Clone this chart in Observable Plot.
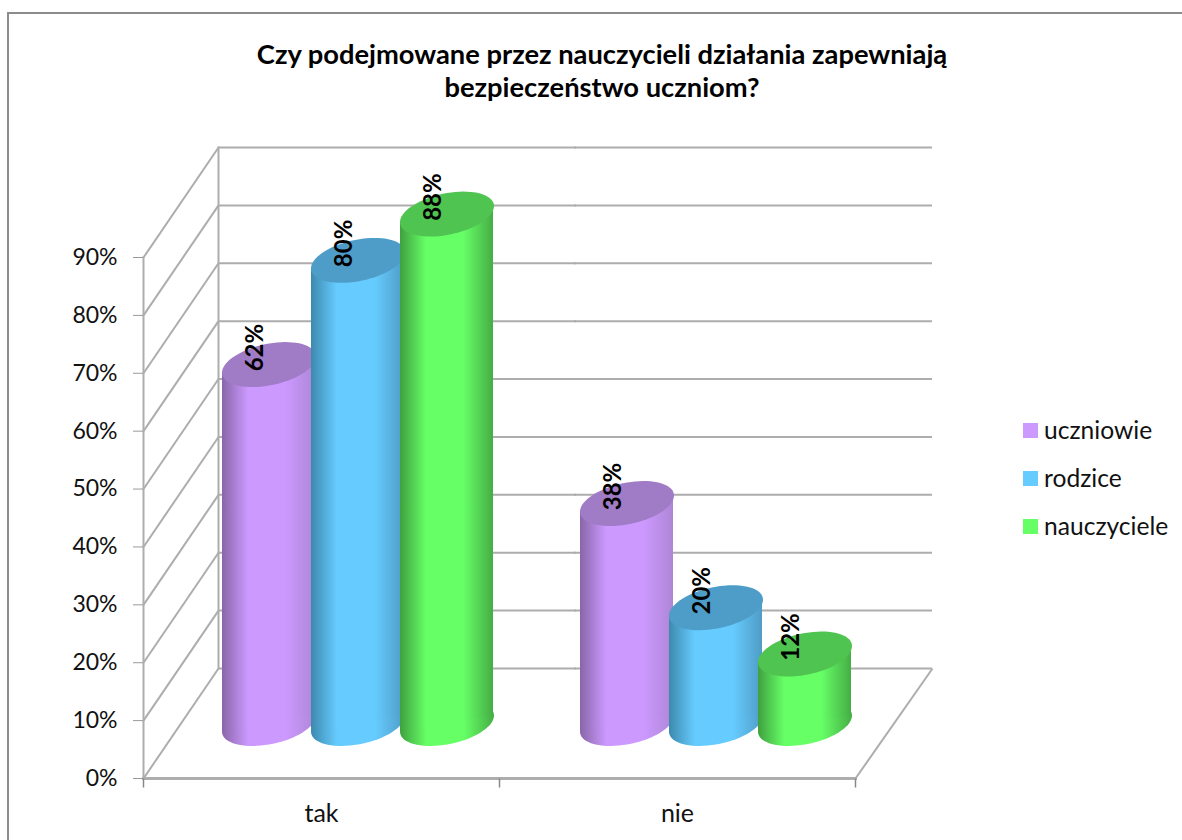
<!DOCTYPE html>
<html lang="pl">
<head>
<meta charset="utf-8">
<script src="https://cdn.jsdelivr.net/npm/d3@7"></script>
<script src="https://cdn.jsdelivr.net/npm/@observablehq/plot@0.6"></script>
<style>
  html, body { margin: 0; padding: 0; background: #fff; }
  #page { position: relative; width: 1182px; height: 840px; overflow: hidden; font-family: Lato, sans-serif; color: #111; }
  #border { position: absolute; left: 7px; top: 12px; right: -5px; bottom: -5px; border: 2px solid #8c8c8c; }
  #title { position: absolute; left: 202px; width: 800px; top: 37px; text-align: center; font-weight: 700; font-size: 27.3px; line-height: 33px; color: #000; }
  #chart { position: absolute; left: 0; top: 0; }
  #legend { position: absolute; left: 1023px; top: 416px; font-size: 24.6px; }
  #legend div { height: 48px; display: flex; align-items: flex-start; line-height: 27px; }
  #legend i { display: block; width: 15px; height: 15px; margin: 7px 6px 0 0; }
</style>
</head>
<body>
<div id="page">
  <div id="border"></div>
  <div id="chart"></div>
  <div id="title">Czy podejmowane przez nauczycieli działania zapewniają<br>bezpieczeństwo uczniom?</div>
  <div id="legend"></div>
</div>
<script>
const categories = ["tak", "nie"];
const seriesNames = ["uczniowie", "rodzice", "nauczyciele"];
const ucniowie = [62, 38];
const rodzice = [80, 20];
const nauczyciele = [88, 12];
const yTicks = [0, 10, 20, 30, 40, 50, 60, 70, 80, 90];

const seriesValues = [ucniowie, rodzice, nauczyciele];
const baseColors = ["#CC99FF", "#66CCFF", "#66FF66"];
const topColors = ["#A07BC6", "#4E9DC8", "#50C450"];
const edgeLeft = ["#8866A8", "#3D89AE", "#3FA03F"];
const edgeRight = ["#AE86D6", "#4F9CC6", "#45AD45"];

const rows = seriesNames.flatMap((s, i) =>
  categories.map((c, j) => ({category: c, series: s, value: seriesValues[i][j], idx: i}))
);

// 3-D projection of the chart box
const depthX = 75, depthY = -110;
const midX = [36, 38], midY = -55;
const halfW = 47, shear = 8, halfH = 21;
const gridColor = "#adadad";

const ellipse = {
  draw(c) {
    const n = 72;
    for (let k = 0; k <= n; ++k) {
      const t = (k / n) * 2 * Math.PI;
      const px = halfW * Math.cos(t), py = -shear * Math.cos(t) + halfH * Math.sin(t);
      k ? c.lineTo(px, py) : c.moveTo(px, py);
    }
    c.closePath();
  }
};
const diagonal = {draw(c) { c.moveTo(0, 0); c.lineTo(depthX, depthY); }};
const floorEdge = {draw(c) { c.moveTo(0, 0); c.lineTo(depthX + 2, depthY); }};
const xTick = {draw(c) { c.moveTo(0, 0); c.lineTo(0, 9); }};

// Shear each cylinder body so that its ends meet the tilted ellipses
function shearBody(index, scales, values, dimensions, context, next) {
  const g = next(index, scales, values, dimensions, context);
  const k = -shear / halfW;
  d3.select(g).selectAll("rect").each(function () {
    const cx = +this.getAttribute("x") + +this.getAttribute("width") / 2;
    this.setAttribute("transform", `matrix(1,${k},0,1,0,${-k * cx})`);
  });
  return g;
}

function defs() {
  const d = d3.create("svg:defs");
  baseColors.forEach((col, i) => {
    const g = d.append("linearGradient").attr("id", `cyl-${i}`).attr("x1", 0).attr("x2", 1).attr("y1", 0).attr("y2", 0);
    [[0, edgeLeft[i]], [0.28, col], [0.68, col], [1, edgeRight[i]]]
      .forEach(([o, c]) => g.append("stop").attr("offset", o).attr("stop-color", c));
  });
  return d.node();
}

const cylinderMarks = seriesNames.flatMap((s, i) =>
  categories.flatMap((cat, j) => {
    const data = rows.filter((r) => r.idx === i && r.category === cat);
    const common = {fx: "category", x: "series", dx: midX[j], dy: midY};
    return [
      Plot.dot(data, {...common, y: () => 0, symbol: ellipse, fill: `url(#cyl-${i})`, stroke: "none"}),
      Plot.barY(data, {...common, y: "value", fill: `url(#cyl-${i})`, insetLeft: -2, insetRight: -2, render: shearBody}),
      Plot.dot(data, {...common, y: "value", symbol: ellipse, fill: topColors[i], stroke: "none"})
    ];
  })
);

const labelMarks = categories.map((cat, j) =>
  Plot.text(rows.filter((r) => r.category === cat), {
    fx: "category", x: "series", y: "value",
    text: (d) => d.value + "%",
    rotate: -90, dx: midX[j] - 14, dy: midY - 17,
    fontWeight: 700, fontSize: 24, fill: "#000"
  })
);

const wall = {stroke: gridColor, strokeWidth: 2};

const chart = Plot.plot({
  width: 1182,
  height: 840,
  marginLeft: 143,
  marginRight: 327,
  marginTop: 257,
  marginBottom: 62,
  style: {background: "transparent", fontFamily: "Lato, sans-serif", fontSize: "20px", color: "#111"},
  y: {domain: [0, 90], axis: null},
  x: {domain: seriesNames, paddingInner: 0, paddingOuter: 0.478, axis: null},
  fx: {domain: categories, padding: 0},
  color: {type: "identity"},
  marks: [
    defs,
    // back wall grid, left wall diagonals, floor
    Plot.ruleY(yTicks, {...wall, dx: depthX, dy: depthY, insetRight: -2}),
    Plot.dot(yTicks, {...wall, fx: () => categories[0], y: (d) => d, frameAnchor: "left", symbol: diagonal, fill: "none"}),
    Plot.dot(categories.slice(-1), {...wall, fx: (d) => d, frameAnchor: "bottom-right", symbol: floorEdge, fill: "none"}),
    Plot.frame({...wall, facet: "super", anchor: "left", dx: depthX, dy: depthY}),
    Plot.frame({...wall, facet: "super", anchor: "left"}),
    Plot.frame({...wall, facet: "super", anchor: "bottom", strokeWidth: 3}),
    // axes
    Plot.axisY(yTicks, {anchor: "left", label: null, tickSize: 10, tickPadding: 16, tickFormat: (d) => d + "%", stroke: "#999", color: "#111", fontSize: 23}),
    Plot.axisFx({anchor: "bottom", label: null, tickSize: 0, tickPadding: 26, fontSize: 25, color: "#111"}),
    Plot.dot(categories, {fx: (d) => d, frameAnchor: "bottom-left", symbol: xTick, stroke: "#888", fill: "none"}),
    Plot.dot(categories.slice(-1), {fx: (d) => d, frameAnchor: "bottom-right", symbol: xTick, stroke: "#888", fill: "none"}),
    // cylinders and their data labels
    ...cylinderMarks,
    ...labelMarks
  ]
});
document.getElementById("chart").appendChild(chart);

const legend = d3.select("#legend");
seriesNames.forEach((s, i) => {
  const row = legend.append("div");
  row.append("i").style("background", baseColors[i]);
  row.append("span").text(s);
});
</script>
</body>
</html>
